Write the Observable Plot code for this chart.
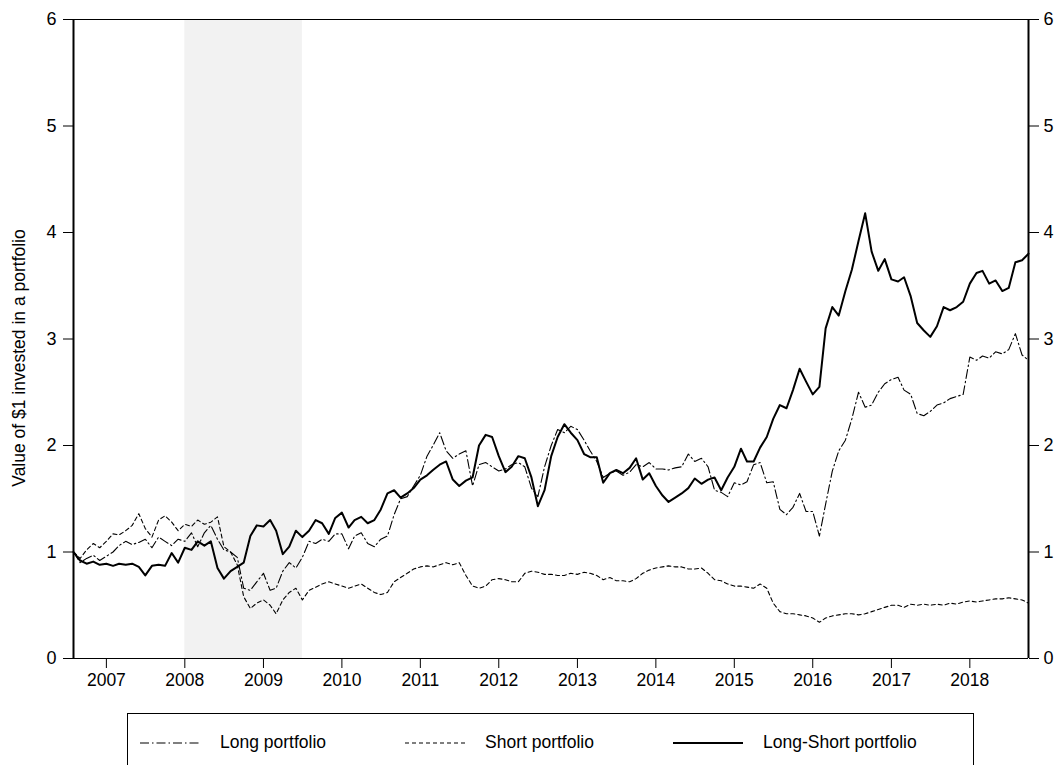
<!DOCTYPE html>
<html>
<head>
<meta charset="utf-8">
<script src="https://cdn.jsdelivr.net/npm/d3@7"></script>
<script src="https://cdn.jsdelivr.net/npm/@observablehq/plot@0.6"></script>
<style>
  html, body { margin: 0; padding: 0; background: #fff; }
  #wrap { position: relative; width: 1056px; height: 765px; overflow: hidden; font-family: "Liberation Sans", Arial, sans-serif; }
  #chart { position: absolute; left: 0; top: 0; }
  #ylabel { position: absolute; left: 19px; top: 358px; transform: translate(-50%, -50%) rotate(-90deg); font-size: 17.5px; white-space: nowrap; color: #000; }
  #legend { position: absolute; left: 127px; top: 713px; width: 847px; height: 70px; border: 1px solid #000; box-sizing: border-box; }
  .item { position: absolute; top: 18px; font-size: 17.5px; color: #000; display: flex; align-items: center; white-space: nowrap; }
  .item svg { margin-right: 20px; }
</style>
</head>
<body>
<div id="wrap">
  <div id="chart"></div>
  <div id="ylabel"></div>
  <div id="legend"></div>
</div>
<script>
// Monthly observations, Aug 2006 .. Oct 2018
const startMonth = "2006-08-01";
const endMonth = "2018-10-01";

const longShort = [
  1.00, 0.92, 0.89, 0.91, 0.88,
  0.89, 0.87, 0.89, 0.88, 0.89, 0.86, 0.78, 0.87, 0.88, 0.87, 0.99, 0.90,
  1.04, 1.02, 1.10, 1.06, 1.10, 0.85, 0.75, 0.82, 0.86, 0.90, 1.15, 1.25,
  1.24, 1.30, 1.20, 0.98, 1.05, 1.20, 1.14, 1.20, 1.30, 1.27, 1.17, 1.32,
  1.37, 1.23, 1.30, 1.33, 1.27, 1.30, 1.40, 1.55, 1.58, 1.51, 1.55, 1.60,
  1.68, 1.72, 1.77, 1.82, 1.85, 1.68, 1.62, 1.67, 1.70, 2.00, 2.10, 2.08,
  1.90, 1.75, 1.80, 1.90, 1.88, 1.70, 1.43, 1.58, 1.90, 2.08, 2.20, 2.12,
  2.05, 1.92, 1.89, 1.89, 1.65, 1.74, 1.77, 1.74, 1.79, 1.88, 1.68, 1.74,
  1.62, 1.53, 1.47, 1.51, 1.55, 1.60, 1.69, 1.64, 1.68, 1.70, 1.58, 1.70,
  1.80, 1.97, 1.85, 1.85, 1.98, 2.08, 2.25, 2.38, 2.35, 2.52, 2.72, 2.60,
  2.48, 2.55, 3.10, 3.30, 3.22, 3.45, 3.65, 3.92, 4.18, 3.82, 3.64, 3.75,
  3.56, 3.54, 3.58, 3.40, 3.15, 3.08, 3.02, 3.12, 3.30, 3.27, 3.30, 3.35,
  3.52, 3.62, 3.64, 3.52, 3.55, 3.45, 3.48, 3.72, 3.74, 3.80
];

const longPort = [
  1.00, 0.90, 0.94, 0.97, 0.92,
  0.96, 1.00, 1.06, 1.10, 1.07, 1.09, 1.12, 1.04, 1.14, 1.10, 1.06, 1.12,
  1.10, 1.18, 1.05, 1.18, 1.25, 1.12, 1.02, 1.00, 0.95, 0.66, 0.64, 0.72,
  0.80, 0.64, 0.66, 0.82, 0.90, 0.85, 0.95, 1.10, 1.08, 1.12, 1.10, 1.17,
  1.17, 1.03, 1.15, 1.18, 1.08, 1.05, 1.12, 1.15, 1.35, 1.50, 1.52, 1.62,
  1.72, 1.90, 2.00, 2.12, 1.95, 1.88, 1.92, 1.95, 1.62, 1.82, 1.84, 1.80,
  1.76, 1.78, 1.82, 1.84, 1.80, 1.60, 1.52, 1.80, 2.00, 2.15, 2.12, 2.18,
  2.15, 2.05, 1.95, 1.85, 1.70, 1.74, 1.76, 1.72, 1.75, 1.82, 1.80, 1.84,
  1.78, 1.78, 1.77, 1.79, 1.80, 1.92, 1.85, 1.88, 1.80, 1.58, 1.56, 1.52,
  1.65, 1.63, 1.66, 1.82, 1.84, 1.65, 1.66, 1.40, 1.35, 1.42, 1.55, 1.38,
  1.38, 1.15, 1.45, 1.76, 1.95, 2.05, 2.25, 2.50, 2.36, 2.38, 2.50, 2.58,
  2.62, 2.64, 2.52, 2.48, 2.30, 2.28, 2.32, 2.38, 2.40, 2.44, 2.46, 2.48,
  2.83, 2.80, 2.84, 2.82, 2.88, 2.86, 2.90, 3.05, 2.85, 2.80
];

const shortPort = [
  1.00, 0.94, 1.02, 1.08, 1.04,
  1.10, 1.17, 1.16, 1.20, 1.25, 1.36, 1.22, 1.14, 1.30, 1.34, 1.28, 1.20,
  1.26, 1.24, 1.30, 1.26, 1.28, 1.33, 1.05, 1.00, 0.88, 0.58, 0.47, 0.52,
  0.55, 0.50, 0.42, 0.55, 0.62, 0.66, 0.55, 0.64, 0.67, 0.70, 0.72, 0.70,
  0.68, 0.66, 0.68, 0.70, 0.66, 0.62, 0.60, 0.62, 0.72, 0.76, 0.80, 0.84,
  0.86, 0.87, 0.86, 0.88, 0.90, 0.88, 0.90, 0.78, 0.68, 0.66, 0.68, 0.74,
  0.75, 0.74, 0.72, 0.72, 0.80, 0.82, 0.81, 0.79, 0.79, 0.78, 0.78, 0.80,
  0.79, 0.81, 0.80, 0.78, 0.74, 0.76, 0.73, 0.73, 0.72, 0.75, 0.80, 0.83,
  0.85, 0.86, 0.87, 0.86, 0.86, 0.84, 0.84, 0.85, 0.80, 0.74, 0.73, 0.70,
  0.68, 0.68, 0.67, 0.66, 0.70, 0.66, 0.52, 0.44, 0.42, 0.42, 0.41, 0.40,
  0.38, 0.34, 0.38, 0.40, 0.41, 0.42, 0.42, 0.41, 0.42, 0.44, 0.46, 0.48,
  0.50, 0.50, 0.48, 0.51, 0.50, 0.51, 0.50, 0.51, 0.50, 0.52, 0.51, 0.53,
  0.54, 0.53, 0.54, 0.55, 0.56, 0.56, 0.57, 0.56, 0.55, 0.52
];

const yTicks = [0, 1, 2, 3, 4, 5, 6];
const xTickYears = [2007, 2008, 2009, 2010, 2011, 2012, 2013, 2014, 2015, 2016, 2017, 2018];
const recession = [{start: "2008-01-01", end: "2009-07-01"}];
const yLabel = "Value of $1 invested in a portfolio";
const seriesNames = ["Long portfolio", "Short portfolio", "Long-Short portfolio"];

const t0 = new Date(startMonth), t1 = new Date(endMonth);
const months = d3.utcMonth.range(t0, d3.utcMonth.offset(t1, 1));
const rows = months.map((d, i) => ({date: d, ls: longShort[i], lp: longPort[i], sp: shortPort[i]}));
const xTicks = xTickYears.map(y => new Date(Date.UTC(y, 0, 1)));
const recRows = recession.map(r => ({x1: new Date(r.start), x2: new Date(r.end)}));

const styles = {
  lp: {stroke: "#000", strokeWidth: 1.1, strokeDasharray: "9,3,1.5,3"},
  sp: {stroke: "#000", strokeWidth: 1.1, strokeDasharray: "4,3"},
  ls: {stroke: "#000", strokeWidth: 2}
};

const chart = Plot.plot({
  width: 1056,
  height: 700,
  marginTop: 19,
  marginBottom: 42,
  marginLeft: 73,
  marginRight: 28,
  style: {fontFamily: "'Liberation Sans', Arial, sans-serif", fontSize: "17px", background: "#fff", color: "#000"},
  x: {type: "utc", domain: [t0, t1]},
  y: {domain: [0, 6]},
  marks: [
    Plot.rect(recRows, {x1: "x1", x2: "x2", fill: "#f2f2f2"}),
    Plot.line(rows, {x: "date", y: "sp", ...styles.sp}),
    Plot.line(rows, {x: "date", y: "lp", ...styles.lp}),
    Plot.line(rows, {x: "date", y: "ls", ...styles.ls, strokeLinejoin: "round"}),
    Plot.axisY({anchor: "left", ticks: yTicks, tickFormat: d3.format("d"), tickSize: 10, tickPadding: 7, fontSize: 18, label: null}),
    Plot.axisY({anchor: "right", ticks: yTicks, tickFormat: d3.format("d"), tickSize: 10, tickPadding: 5, fontSize: 18, label: null}),
    Plot.axisX({ticks: xTicks, tickFormat: d3.utcFormat("%Y"), tickSize: 10, tickPadding: 5, fontSize: 17.5, label: null}),
    Plot.ruleY([0], {stroke: "#000", strokeWidth: 1}),
    Plot.ruleY([6], {stroke: "#000", strokeWidth: 1}),
    Plot.ruleX([t0], {stroke: "#000", strokeWidth: 2}),
    Plot.ruleX([t1], {stroke: "#000", strokeWidth: 2})
  ]
});
document.getElementById("chart").appendChild(chart);
document.getElementById("ylabel").textContent = yLabel;

// Legend
const legend = document.getElementById("legend");
const legendPos = [{left: 12, w: 60}, {left: 277, w: 60}, {left: 545, w: 70}];
const legendKeys = ["lp", "sp", "ls"];
seriesNames.forEach((name, i) => {
  const item = document.createElement("div");
  item.className = "item";
  item.style.left = legendPos[i].left + "px";
  const s = styles[legendKeys[i]];
  const w = legendPos[i].w;
  item.innerHTML = `<svg width="${w}" height="10"><line x1="0" y1="5" x2="${w}" y2="5" stroke="#000" stroke-width="${s.strokeWidth}" ${s.strokeDasharray ? `stroke-dasharray="${s.strokeDasharray}"` : ""}/></svg><span>${name}</span>`;
  legend.appendChild(item);
});
</script>
</body>
</html>
